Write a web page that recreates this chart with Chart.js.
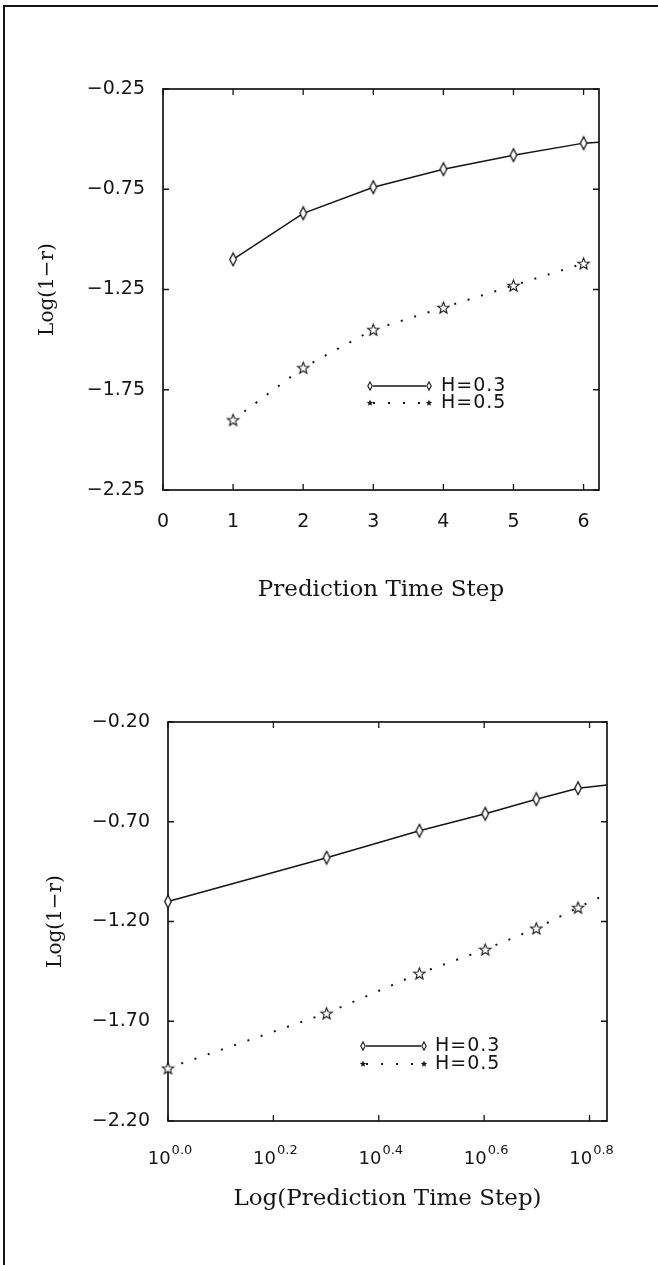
<!DOCTYPE html>
<html><head><meta charset="utf-8">
<script src="https://cdn.jsdelivr.net/npm/chart.js@4"></script>
<style>
html,body{margin:0;padding:0;background:#fff;}
body{width:658px;height:1265px;position:relative;overflow:hidden;}
#frame{position:absolute;left:3px;top:5px;width:700px;height:1300px;border-top:2px solid #151515;border-left:2px solid #151515;}
.wrap{position:absolute;left:0;width:658px;}
#w1{top:0;height:632px;}
#w2{top:632px;height:633px;}
canvas{display:block;}
</style></head><body>
<div id="frame"></div>
<div class="wrap" id="w1"><canvas id="c1" width="658" height="632"></canvas></div>
<div class="wrap" id="w2"><canvas id="c2" width="658" height="633"></canvas></div>
<script>
// ---- data ----
const steps = [1, 2, 3, 4, 5, 6];
const seriesLabels = ['H=0.3', 'H=0.5'];
// top panel: Log(1-r) vs prediction time step
const h03Linear = [-1.10, -0.87, -0.74, -0.65, -0.58, -0.52];
const h05Linear = [-1.90, -1.64, -1.45, -1.34, -1.23, -1.12];
const linXMax = 6.22;            // right end of the top x axis
const h03LinearEdge = -0.515;    // H=0.3 curve where it meets the right frame
const linXTicks = [0, 1, 2, 3, 4, 5, 6];
const linYTicks = [-0.25, -0.75, -1.25, -1.75, -2.25];
// bottom panel: Log(1-r) vs log(prediction time step)
const h03Log = [-1.10, -0.88, -0.745, -0.66, -0.587, -0.532];
const h05Log = [-1.935, -1.66, -1.46, -1.34, -1.234, -1.13];
const logXMax = 6.81;            // right end of the bottom x axis (10^0.833)
const h03LogEdge = -0.516;
const h05LogEdge = -1.062;
const logXExponents = [0.0, 0.2, 0.4, 0.6, 0.8];
const logYTicks = [-0.20, -0.70, -1.20, -1.70, -2.20];

const INK = '#151515';
const TICK_FONT = {family: 'DejaVu Sans', size: 19};
const TITLE_FONT = {family: 'DejaVu Serif', size: 23};
const YTITLE_FONT = {family: 'DejaVu Serif', size: 20};

function pointCanvas(w, h, draw) {
  const c = document.createElement('canvas'); c.width = w; c.height = h;
  draw(c.getContext('2d'), w, h); return c;
}
function diamondPath(g, cx, cy, hw, hh) {
  g.beginPath(); g.moveTo(cx, cy - hh); g.lineTo(cx + hw, cy); g.lineTo(cx, cy + hh); g.lineTo(cx - hw, cy); g.closePath();
}
function starPath(g, cx, cy, R, r) {
  g.beginPath();
  for (let i = 0; i < 10; i++) {
    const a = -Math.PI / 2 + i * Math.PI / 5, rad = i % 2 === 0 ? R : r;
    const px = cx + rad * Math.cos(a), py = cy + rad * Math.sin(a);
    if (i) g.lineTo(px, py); else g.moveTo(px, py);
  }
  g.closePath();
}
const diamondImg = pointCanvas(10, 16, (g, w, h) => {
  diamondPath(g, w / 2, h / 2, 3.3, 6.4); g.fillStyle = '#fff'; g.fill();
  g.lineWidth = 1.3; g.strokeStyle = INK; g.stroke();
});
const starImg = pointCanvas(15, 15, (g, w, h) => {
  starPath(g, w / 2, h / 2 + 0.6, 6, 2.6); g.fillStyle = '#fff'; g.fill();
  g.lineWidth = 1.1; g.strokeStyle = INK; g.stroke();
});

function fmtY(v) { return (v < 0 ? '\u2212' : '') + Math.abs(v).toFixed(2); }

function buildDatasets(h03, h05, xMax, edge03, edge05) {
  const n = steps.length;
  const d03 = steps.map((x, i) => ({x, y: h03[i]}));
  if (edge03 !== null) d03.push({x: xMax, y: edge03});
  const d05 = steps.map((x, i) => ({x, y: h05[i]}));
  if (edge05 !== null) d05.push({x: xMax, y: edge05});
  return [
    {label: seriesLabels[0], data: d03, borderColor: INK, borderWidth: 1.5, tension: 0, clip: false,
     pointStyle: diamondImg, pointRadius: c => c.dataIndex < n ? 6 : 0, order: 1},
    {label: seriesLabels[1], data: d05, borderColor: INK, borderWidth: 2, borderDash: [2, 12], tension: 0, clip: false,
     pointStyle: starImg, pointRadius: c => c.dataIndex < n ? 6 : 0, order: 2}
  ];
}

// frame + inward tick marks on all four sides
const framePlugin = {
  id: 'frameTicks',
  beforeDatasetsDraw(chart) {
    const {ctx, chartArea: a, scales: {x, y}} = chart;
    ctx.save();
    ctx.strokeStyle = INK; ctx.lineWidth = 1.7;
    ctx.strokeRect(a.left, a.top, a.right - a.left, a.bottom - a.top);
    ctx.lineWidth = 1.3;
    const L = 6;
    ctx.beginPath();
    x.ticks.forEach(t => {
      const px = x.getPixelForValue(t.value);
      ctx.moveTo(px, a.bottom); ctx.lineTo(px, a.bottom - L);
      ctx.moveTo(px, a.top); ctx.lineTo(px, a.top + L);
    });
    y.ticks.forEach(t => {
      const py = y.getPixelForValue(t.value);
      ctx.moveTo(a.left, py); ctx.lineTo(a.left + L, py);
      ctx.moveTo(a.right, py); ctx.lineTo(a.right - L, py);
    });
    ctx.stroke();
    ctx.restore();
  }
};

// in-plot legend: line sample with a small marker at each end, then the label
const legendPlugin = {
  id: 'inLegend',
  afterDraw(chart, args, opts) {
    const {ctx} = chart;
    ctx.save();
    chart.data.datasets.forEach((ds, i) => {
      const yy = opts.y0 + i * opts.dy;
      ctx.strokeStyle = INK;
      ctx.lineWidth = i === 0 ? 1.4 : 2;
      ctx.setLineDash(i === 0 ? [] : [2, 13]);
      ctx.beginPath(); ctx.moveTo(opts.x0 + 3, yy); ctx.lineTo(opts.x1 - 3, yy); ctx.stroke();
      ctx.setLineDash([]);
      [opts.x0, opts.x1].forEach(px => {
        if (i === 0) {
          diamondPath(ctx, px, yy, 2.2, 4); ctx.fillStyle = '#fff'; ctx.fill(); ctx.lineWidth = 1.1; ctx.stroke();
        } else {
          starPath(ctx, px, yy, 3.4, 1.5); ctx.fillStyle = INK; ctx.fill();
        }
      });
      ctx.fillStyle = INK;
      ctx.font = '19px "DejaVu Sans"';
      ctx.letterSpacing = '1px';
      ctx.textBaseline = 'middle'; ctx.textAlign = 'left';
      ctx.fillText(ds.label, opts.tx, yy);
    });
    ctx.restore();
  }
};

// 10^e labels for the logarithmic axis
const powerLabelPlugin = {
  id: 'powerLabels',
  afterDraw(chart, args, opts) {
    const {ctx, scales: {x}} = chart;
    ctx.save();
    ctx.fillStyle = INK; ctx.textBaseline = 'alphabetic'; ctx.textAlign = 'left';
    x.ticks.forEach((t, i) => {
      const px = x.getPixelForValue(t.value);
      const sup = logXExponents[i].toFixed(1);
      ctx.font = '18px "DejaVu Sans"';
      const wb = ctx.measureText('10').width;
      ctx.font = '13px "DejaVu Sans"';
      const ws = ctx.measureText(sup).width;
      const start = px - (wb + ws + 1) / 2 + 2;
      ctx.font = '18px "DejaVu Sans"';
      ctx.fillText('10', start, opts.baseline);
      ctx.font = '13px "DejaVu Sans"';
      ctx.fillText(sup, start + wb + 1, opts.baseline - 10);
    });
    ctx.restore();
  }
};

function makeChart(id, cfg) {
  return new Chart(document.getElementById(id), {
    type: 'line',
    data: {datasets: cfg.datasets},
    plugins: [framePlugin, legendPlugin].concat(cfg.extraPlugins || []),
    options: {
      responsive: false, animation: false, devicePixelRatio: 1, events: [],
      layout: {padding: {left: 0, top: cfg.top, right: cfg.right, bottom: 0}},
      plugins: {legend: {display: false}, tooltip: {enabled: false}, title: {display: false},
                inLegend: cfg.legend, powerLabels: cfg.power || {}},
      scales: {
        x: {
          type: cfg.xType, position: 'bottom', min: cfg.xMin, max: cfg.xMax,
          grid: {display: false, drawTicks: false}, border: {display: false},
          afterBuildTicks: s => { s.ticks = cfg.xTicks.map(v => ({value: v})); },
          afterFit: s => { s.height = cfg.xHeight; },
          ticks: {display: cfg.xTickDisplay, color: INK, font: TICK_FONT, padding: cfg.xPad, maxRotation: 0, autoSkip: false},
          title: {display: true, text: cfg.xTitle, color: INK, font: TITLE_FONT, padding: {top: 0, bottom: cfg.xTitlePad}}
        },
        y: {
          type: 'linear', position: 'left', min: cfg.yMin, max: cfg.yMax,
          grid: {display: false, drawTicks: false}, border: {display: false},
          afterBuildTicks: s => { s.ticks = cfg.yTicks.map(v => ({value: v})); },
          afterFit: s => { s.width = cfg.yWidth; },
          ticks: {color: INK, font: TICK_FONT, padding: 18, callback: v => fmtY(v)},
          title: {display: true, text: 'Log(1\u2212r)', color: INK, font: YTITLE_FONT, padding: {top: cfg.yTitlePad, bottom: 0}}
        }
      }
    }
  });
}

makeChart('c1', {
  datasets: buildDatasets(h03Linear, h05Linear, linXMax, h03LinearEdge, null),
  top: 89, right: 59, xHeight: 142, yWidth: 163,
  xType: 'linear', xMin: 0, xMax: linXMax, xTicks: linXTicks, xTickDisplay: true, xPad: 21,
  yMin: -2.25, yMax: -0.25, yTicks: linYTicks,
  xTitle: 'Prediction Time Step', xTitlePad: 28, yTitlePad: 36,
  legend: {x0: 370, x1: 429, tx: 441, y0: 386, dy: 17}
});

makeChart('c2', {
  datasets: buildDatasets(h03Log, h05Log, logXMax, h03LogEdge, h05LogEdge),
  top: 90, right: 51, xHeight: 144, yWidth: 168,
  xType: 'logarithmic', xMin: 1, xMax: logXMax, xTicks: logXExponents.map(e => Math.pow(10, e)), xTickDisplay: false, xPad: 0,
  yMin: -2.20, yMax: -0.20, yTicks: logYTicks,
  xTitle: 'Log(Prediction Time Step)', xTitlePad: 52, yTitlePad: 44,
  legend: {x0: 363, x1: 424, tx: 435, y0: 414, dy: 18},
  power: {baseline: 532},
  extraPlugins: [powerLabelPlugin]
});
</script>
</body></html>
